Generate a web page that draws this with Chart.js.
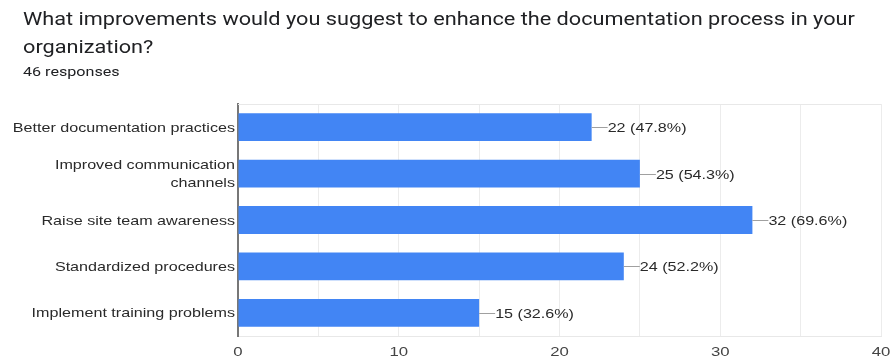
<!DOCTYPE html>
<html>
<head>
<meta charset="utf-8">
<script src="https://cdn.jsdelivr.net/npm/chart.js@4/dist/chart.umd.min.js"></script>
<style>
  html, body { margin: 0; padding: 0; background: #fff; }
  body { width: 891px; height: 360px; position: relative; overflow: hidden; }
  .head { position: absolute; left: 23px; font-family: Roboto, sans-serif; color: #202124; white-space: nowrap; transform: scaleX(1.24); transform-origin: 0 0; }
  #t1 { top: 4px; font-size: 17.5px; line-height: 30px; }
  #t2 { top: 32px; font-size: 17.5px; line-height: 30px; }
  #sub { top: 63px; font-size: 13px; line-height: 17px; }
  #wrap { position: absolute; left: 0; top: 0; width: 891px; height: 360px; }
</style>
</head>
<body>
<div id="wrap"><canvas id="c" width="891" height="360"></canvas></div>
<div class="head" id="t1">What improvements would you suggest to enhance the documentation process in your</div>
<div class="head" id="t2">organization?</div>
<div class="head" id="sub">46 responses</div>
<script>
const categories = [
  'Better documentation practices',
  ['Improved communication', 'channels'],
  'Raise site team awareness',
  'Standardized procedures',
  'Implement training problems'
];
const counts = [22, 25, 32, 24, 15];
const totalResponses = 46;
const xTicks = [0, 10, 20, 30, 40];

// Text in this chart is set slightly wide
const STRETCH = 1.24;
const FONT = '"Liberation Sans", Arial, sans-serif';

function wideText(ctx, text, x, y, align) {
  ctx.save();
  ctx.scale(STRETCH, 1);
  ctx.textAlign = align;
  ctx.fillText(text, x / STRETCH, y);
  ctx.restore();
}

// Category labels, x tick labels and value labels
const chartText = {
  id: 'chartText',
  afterDraw(chart) {
    const ctx = chart.ctx;
    const xs = chart.scales.x, ys = chart.scales.y;
    ctx.save();
    ctx.textBaseline = 'middle';

    // category labels on the left
    ctx.font = '13px ' + FONT;
    ctx.fillStyle = '#2a2a2a';
    categories.forEach((lab, i) => {
      const y = ys.getPixelForTick(i);
      const lines = Array.isArray(lab) ? lab : [lab];
      const lh = 18;
      lines.forEach((ln, k) => {
        const yy = y + (k - (lines.length - 1) / 2) * lh + 1;
        wideText(ctx, ln, ys.right - 3, yy, 'right');
      });
    });

    // x tick labels
    ctx.font = '13.5px ' + FONT;
    ctx.fillStyle = '#444';
    xTicks.forEach(v => {
      wideText(ctx, String(v), xs.getPixelForValue(v), chart.chartArea.bottom + 16, 'center');
    });

    // leader line + "count (pct%)" for each bar
    const meta = chart.getDatasetMeta(0);
    ctx.font = '13px ' + FONT;
    meta.data.forEach((bar, i) => {
      const v = counts[i];
      const x = bar.x, y = Math.round(bar.y);
      ctx.strokeStyle = '#a0a0a0';
      ctx.lineWidth = 1;
      ctx.beginPath();
      ctx.moveTo(x, y + 0.5);
      ctx.lineTo(x + 16, y + 0.5);
      ctx.stroke();
      ctx.fillStyle = '#2a2a2a';
      const pct = (v / totalResponses * 100).toFixed(1);
      wideText(ctx, v + ' (' + pct + '%)', x + 16, y + 1, 'left');
    });
    ctx.restore();
  }
};

// Light rule along the top of the plot area
const frame = {
  id: 'frame',
  beforeDatasetsDraw(chart) {
    const { ctx, chartArea: a } = chart;
    ctx.save();
    ctx.strokeStyle = '#e8e8e8';
    ctx.lineWidth = 1;
    ctx.beginPath();
    ctx.moveTo(a.left, a.top + 0.5);
    ctx.lineTo(a.right, a.top + 0.5);
    ctx.stroke();
    ctx.restore();
  }
};

new Chart(document.getElementById('c'), {
  type: 'bar',
  data: {
    labels: categories,
    datasets: [{
      data: counts,
      backgroundColor: '#4285f4',
      borderWidth: 0,
      categoryPercentage: 1,
      barPercentage: 0.6
    }]
  },
  options: {
    indexAxis: 'y',
    responsive: false,
    animation: false,
    events: [],
    layout: { padding: { top: 104, right: 10, left: 0, bottom: 0 } },
    plugins: { legend: { display: false }, tooltip: { enabled: false } },
    scales: {
      x: {
        min: 0, max: 40,
        ticks: { stepSize: 5, display: false },
        grid: { color: '#ececec', drawTicks: false },
        border: { display: true, color: '#e8e8e8' },
        afterFit(s) { s.height = 24; }
      },
      y: {
        ticks: { display: false },
        grid: { display: false, drawTicks: false },
        border: { display: true, color: '#777', width: 2 },
        afterFit(s) { s.width = 238; }
      }
    }
  },
  plugins: [frame, chartText]
});
</script>
</body>
</html>
